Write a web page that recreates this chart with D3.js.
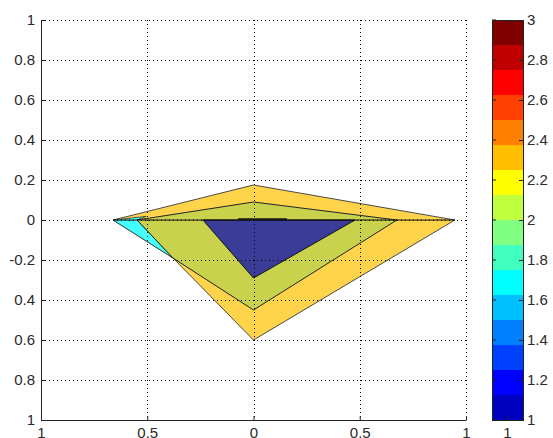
<!DOCTYPE html>
<html>
<head>
<meta charset="utf-8">
<script src="https://cdn.jsdelivr.net/npm/d3@7"></script>
<style>
  body { margin: 0; background: #fff; }
  text { font-family: "Liberation Sans", Arial, sans-serif; font-size: 15px; fill: #2a2a2a; }
</style>
</head>
<body>
<div id="chart"></div>
<script>
// Tick values and the labels as they appear in the figure
const xTicks = [-1, -0.5, 0, 0.5, 1];
const xTickLabels = ["1", "0.5", "0", "0.5", "1"];
const yTicks = [1, 0.8, 0.6, 0.4, 0.2, 0, -0.2, -0.4, -0.6, -0.8, -1];
const yTickLabels = ["1", "0.8", "0.6", "0.4", "0.2", "0", "-0.2", "0.4", "0.6", "0.8", "1"];
const cbTicks = [3, 2.8, 2.6, 2.4, 2.2, 2, 1.8, 1.6, 1.4, 1.2, 1];

// Contour level bands (jet, 16 levels from 1 to 3)
const cbColors = ["#0000bf", "#0000ff", "#0040ff", "#0080ff", "#00bfff", "#00ffff",
                  "#40ffbf", "#80ff80", "#bfff40", "#ffff00", "#ffbf00", "#ff8000",
                  "#ff4000", "#ff0000", "#bf0000", "#800000"];

// Filled contour regions (data coordinates)
const outerRegion = [[-0.661, 0], [0, 0.175], [0.948, 0], [0, -0.6], [-0.379, -0.19]];
const midRegion = [[-0.548, 0], [0, 0.09], [0.675, 0], [0, -0.45], [-0.379, -0.19]];
const cyanRegion = [[-0.661, 0], [-0.505, 0.018], [-0.548, 0], [-0.379, -0.19]];
const innerRegion = [[-0.238, 0], [0.478, 0], [0, -0.29]];
const ridge = [[-0.073, 0.005], [0.158, 0.005]];
const baseLine = [[-0.661, 0], [0.948, 0]];

const width = 553, height = 438;
const plot = { left: 41, right: 466, top: 20, bottom: 420 };

const svg = d3.select("#chart").append("svg")
    .attr("width", width)
    .attr("height", height);

const x = d3.scaleLinear().domain([-1, 1]).range([plot.left, plot.right]);
const y = d3.scaleLinear().domain([-1, 1]).range([plot.bottom, plot.top]);

// filled regions
const line = d3.line().x(d => x(d[0])).y(d => y(d[1]));
const poly = pts => line(pts) + "Z";

svg.append("path").attr("d", poly(outerRegion))
    .attr("fill", "#ffd34a").attr("stroke", "#4a4a4a").attr("stroke-width", 1);
svg.append("path").attr("d", poly(cyanRegion))
    .attr("fill", "#44ffff").attr("stroke", "#333").attr("stroke-width", 0.8);
svg.append("path").attr("d", poly(midRegion))
    .attr("fill", "#c9d24d").attr("stroke", "#222").attr("stroke-width", 1);
svg.append("path").attr("d", poly(innerRegion))
    .attr("fill", "#3b3c98").attr("stroke", "#111").attr("stroke-width", 1);
svg.append("path").attr("d", line(baseLine))
    .attr("fill", "none").attr("stroke", "#111").attr("stroke-width", 1.2);
svg.append("path").attr("d", line(ridge))
    .attr("fill", "none").attr("stroke", "#111").attr("stroke-width", 1.5);

// dotted grid
const grid = svg.append("g")
    .attr("stroke", "#000").attr("stroke-width", 1).attr("stroke-dasharray", "1,3");
grid.selectAll(".gx").data(xTicks.slice(1)).enter().append("line")
    .attr("x1", d => Math.round(x(d)) + 0.5).attr("x2", d => Math.round(x(d)) + 0.5)
    .attr("y1", plot.top).attr("y2", plot.bottom);
grid.selectAll(".gy").data(yTicks.slice(0, -1)).enter().append("line")
    .attr("y1", d => Math.round(y(d)) + 0.5).attr("y2", d => Math.round(y(d)) + 0.5)
    .attr("x1", plot.left).attr("x2", plot.right);

// axes (left and bottom only, inward ticks)
const xAxis = d3.axisBottom(x).tickValues(xTicks).tickSizeInner(-4).tickSizeOuter(0)
    .tickFormat((d, i) => xTickLabels[i]).tickPadding(7);
const gx = svg.append("g").attr("transform", `translate(0,${plot.bottom})`).call(xAxis);
const yAxis = d3.axisLeft(y).tickValues(yTicks).tickSizeInner(-4).tickSizeOuter(0)
    .tickFormat((d, i) => yTickLabels[i]).tickPadding(6);
const gy = svg.append("g").attr("transform", `translate(${plot.left},0)`).call(yAxis);
[gx, gy].forEach(g => {
    g.select(".domain").attr("stroke", "#222");
    g.selectAll(".tick line").attr("stroke", "#222");
    g.selectAll("text").style("font-size", "15px").attr("fill", "#2a2a2a")
        .style("font-family", "Liberation Sans, Arial, sans-serif");
});

// colorbar
const cb = { left: 492, right: 523 };
const cbY = d3.scaleLinear().domain([1, 3]).range([plot.bottom, plot.top]);
const levels = d3.range(cbColors.length).map(i => 1 + i * 2 / cbColors.length);
svg.append("g").selectAll("rect").data(levels).enter().append("rect")
    .attr("x", cb.left).attr("width", cb.right - cb.left)
    .attr("y", d => cbY(d + 2 / cbColors.length))
    .attr("height", d => cbY(d) - cbY(d + 2 / cbColors.length))
    .attr("fill", (d, i) => cbColors[i]);
svg.append("rect").attr("x", cb.left + 0.5).attr("y", plot.top + 0.5)
    .attr("width", cb.right - cb.left).attr("height", plot.bottom - plot.top)
    .attr("fill", "none").attr("stroke", "#222");

const cbAxis = d3.axisRight(cbY).tickValues(cbTicks).tickSizeInner(-4).tickSizeOuter(0)
    .tickFormat(d3.format("")).tickPadding(4);
const gcb = svg.append("g").attr("transform", `translate(${cb.right},0)`).call(cbAxis);
gcb.select(".domain").remove();
gcb.selectAll(".tick line").attr("stroke", "#222");
gcb.selectAll("text").style("font-size", "15px").attr("fill", "#2a2a2a")
    .style("font-family", "Liberation Sans, Arial, sans-serif");
// left-side ticks of the colorbar
svg.append("g").selectAll("line").data(cbTicks).enter().append("line")
    .attr("x1", cb.left).attr("x2", cb.left + 4)
    .attr("y1", d => cbY(d)).attr("y2", d => cbY(d)).attr("stroke", "#222");

// colorbar x tick
const cbX = d3.scaleLinear().domain([0.5, 1.5]).range([cb.left, cb.right]);
svg.append("line").attr("x1", cbX(1)).attr("x2", cbX(1))
    .attr("y1", plot.top).attr("y2", plot.top + 4).attr("stroke", "#222");
svg.append("line").attr("x1", cbX(1)).attr("x2", cbX(1))
    .attr("y1", plot.bottom).attr("y2", plot.bottom - 4).attr("stroke", "#222");
svg.append("text").attr("x", cbX(1)).attr("y", plot.bottom + 7)
    .attr("dy", "0.71em").attr("text-anchor", "middle").text("1");
</script>
</body>
</html>
